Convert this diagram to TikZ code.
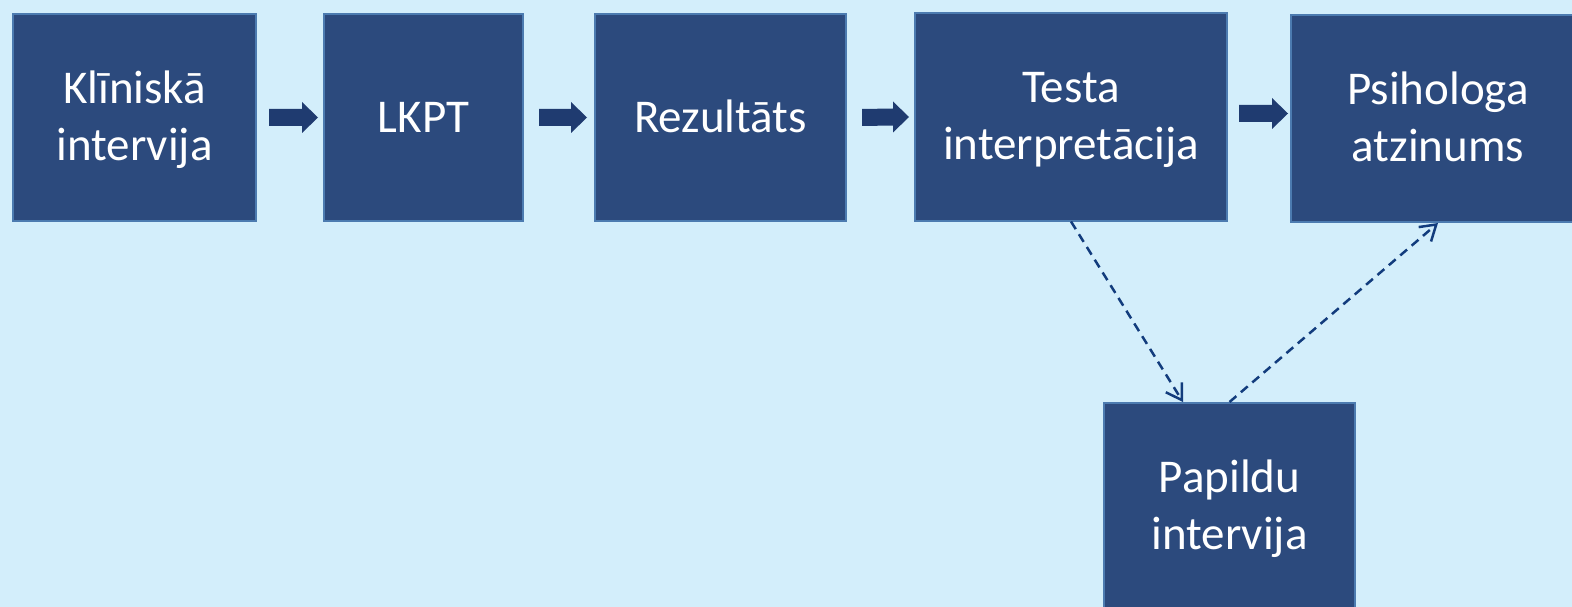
\documentclass[tikz,border=0pt]{standalone}
\usepackage{fontspec}
\setmainfont{Carlito}
\usetikzlibrary{calc,arrows.meta}
\definecolor{bgc}{HTML}{D3EEFB}
\definecolor{boxfill}{HTML}{2C4A7D}
\definecolor{boxline}{HTML}{4C7BB0}
\definecolor{blockc}{HTML}{1F3B70}
\definecolor{dashc}{HTML}{123C7D}
\newcommand\blockarr[2]{%
  \fill[blockc] ($#1+(0,-8.5)$) -- ($#2+(-16,-8.5)$) -- ($#2+(-16,-15.5)$) -- #2
    -- ($#2+(-16,15.5)$) -- ($#2+(-16,8.5)$) -- ($#1+(0,8.5)$) -- cycle;}
\newcommand\topstrut{\rule{0pt}{40pt}}
\newcommand\botstrut{\rule[-11pt]{0pt}{11pt}}
\newcommand\onestrut{\rule[-10pt]{0pt}{50pt}}
\begin{document}
\begin{tikzpicture}[x=1pt,y=-1pt,
  box/.style={rectangle, draw=boxline, line width=2pt, fill=boxfill, text=white,
    minimum height=207pt, inner sep=0pt, align=center,
    font=\fontsize{47pt}{57pt}\selectfont},
  dasharrow/.style={draw=dashc, line width=2.5pt, dash pattern=on 9pt off 6pt,
    -{Straight Barb[length=15pt,width=19pt]}}]
\useasboundingbox (0,0) rectangle (1572,607);
\clip (0,0) rectangle (1572,607);
\fill[bgc] (0,0) rectangle (1572,607);

\node[box, minimum width=243pt] (b1) at (134.5,117.5) {\topstrut Klīniskā\\intervija\botstrut};
\node[box, minimum width=199pt] (b2) at (423.5,117.5) {\onestrut LKPT};
\node[box, minimum width=251pt] (b3) at (720.5,117.5) {\onestrut Rezultāts};
\node[box, minimum width=312pt] (b4) at (1071,117) {\topstrut Testa\\interpretācija\botstrut};
\node[box, minimum width=294pt] (b5) at (1438,118.5) {\topstrut Psihologa\\atzinums\botstrut};
\node[box, minimum width=251pt] (b6) at (1229.5,506.5) {\topstrut Papildu\\intervija\botstrut};

\coordinate (a1s) at ($(b1.east)+(12,0)$);  \coordinate (a1e) at ($(b2.west)+(-5,0)$);
\coordinate (a2s) at ($(b2.east)+(15,0)$);  \coordinate (a2e) at ($(b3.west)+(-7,0)$);
\coordinate (a3s) at ($(b3.east)+(15,0)$);  \coordinate (a3e) at ($(b4.west)+(-5,0)$);
\coordinate (a4s) at ($(b4.east)+(11,-3.5)$); \coordinate (a4e) at ($(b5.west)+(-2,-5)$);
\blockarr{(a1s)}{(a1e)}
\blockarr{(a2s)}{(a2e)}
\blockarr{(a3s)}{(a3e)}
\blockarr{(a4s)}{(a4e)}

\coordinate (d1e) at ($(b6.north)+(-46.5,0)$);
\draw[dasharrow] (b4.south) -- (d1e);
\draw[dasharrow] (b6.north) -- (b5.south);
\end{tikzpicture}
\end{document}
